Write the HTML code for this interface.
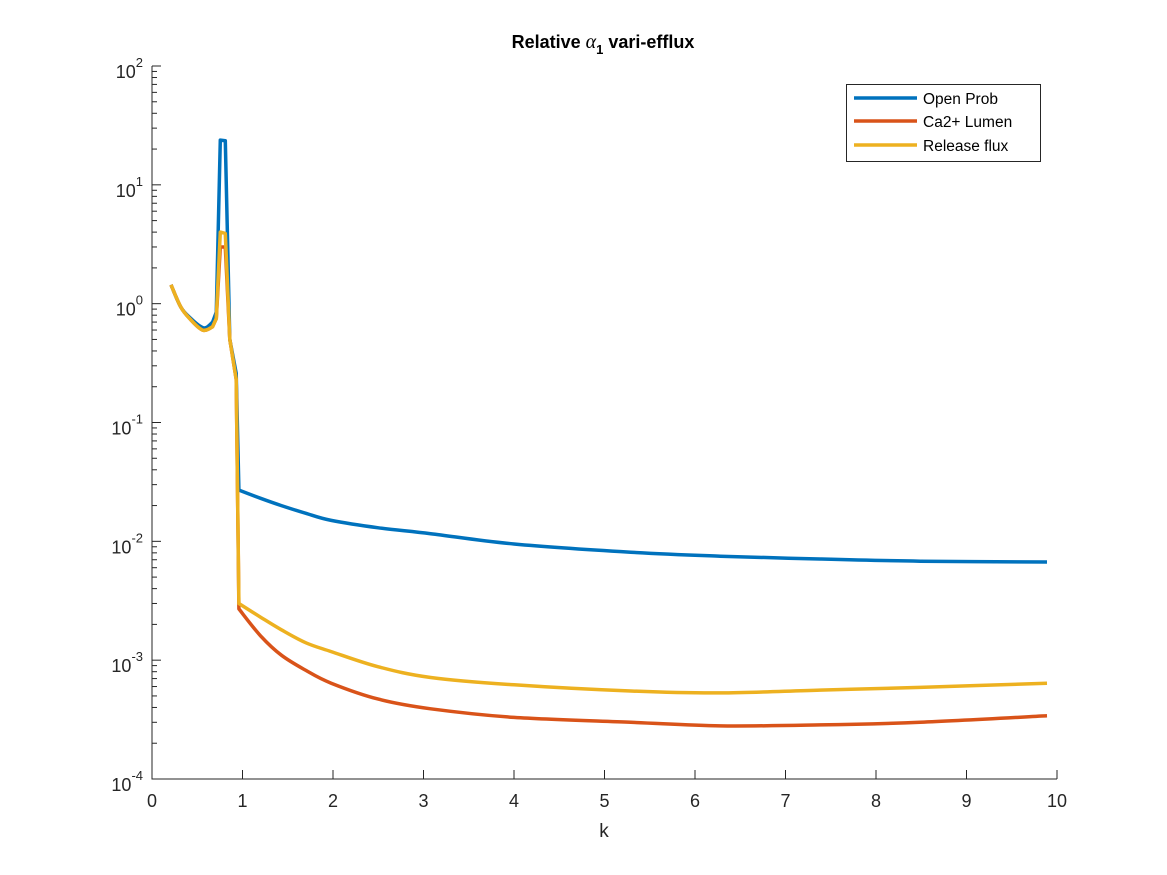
<!DOCTYPE html>
<html><head><meta charset="utf-8"><style>
body{margin:0;background:#fff;}
svg{display:block;font-family:"Liberation Sans",sans-serif;}
</style></head><body>
<svg id="chart" width="1167" height="875">
<rect width="1167" height="875" fill="#fff"/>
<g id="axes"></g>
<g id="series"></g>
<text x="603" y="48" text-anchor="middle" font-size="18" font-weight="bold" fill="#000">Relative <tspan font-style="italic" font-family="Liberation Serif, serif" font-weight="normal" font-size="20">α</tspan><tspan font-size="13" dy="6">1</tspan><tspan dy="-6"> vari-efflux</tspan></text>
<text x="604" y="837" text-anchor="middle" font-size="19" fill="#262626">k</text>
<g>
<rect x="846.5" y="84.5" width="194" height="77" fill="#fff" stroke="#262626" stroke-width="1"/>
<line x1="854" y1="98" x2="917" y2="98" stroke="#0072BD" stroke-width="3.5"/>
<text x="923" y="104" font-size="15.5" fill="#000">Open Prob</text>
<line x1="854" y1="121" x2="917" y2="121" stroke="#D95319" stroke-width="3.5"/>
<text x="923" y="127" font-size="15.5" fill="#000">Ca2+ Lumen</text>
<line x1="854" y1="145" x2="917" y2="145" stroke="#EDB120" stroke-width="3.5"/>
<text x="923" y="151" font-size="15.5" fill="#000">Release flux</text>
</g>
</svg>
<script>
const xTicks=[0,1,2,3,4,5,6,7,8,9,10];
const yExps=[2,1,0,-1,-2,-3,-4];
const kOpen=[0.21,0.32,0.43,0.54,0.6,0.67,0.71,0.755,0.81,0.86,0.93,0.96,1.2,1.43,1.7,1.98,2.5,3.08,4,5.29,6.28,7.38,8.49,9.89];
const vOpen=[1.44,0.93,0.75,0.64,0.63,0.7,0.85,23.8,23.5,0.5,0.26,0.027,0.023,0.02,0.0172,0.015,0.013,0.0116,0.0095,0.0081,0.0075,0.0071,0.0068,0.0067];
const kCa=[0.21,0.32,0.43,0.54,0.6,0.67,0.71,0.755,0.81,0.86,0.93,0.96,1.2,1.43,1.7,1.98,2.5,3.08,4,5.29,6.28,7.38,8.49,9.89];
const vCa=[1.44,0.93,0.73,0.61,0.6,0.64,0.75,3.0,3.0,0.5,0.23,0.0027,0.0016,0.0011,0.00082,0.00064,0.00047,0.00039,0.00033,0.0003,0.00028,0.000285,0.0003,0.00034];
const kRel=[0.21,0.32,0.43,0.54,0.6,0.67,0.71,0.755,0.81,0.86,0.93,0.96,1.2,1.43,1.7,1.98,2.5,3.08,4,5.29,6.28,7.38,8.49,9.89];
const vRel=[1.44,0.93,0.73,0.61,0.6,0.64,0.75,4.0,3.9,0.5,0.23,0.003,0.0023,0.0018,0.0014,0.00118,0.00088,0.000715,0.00062,0.00055,0.00053,0.00056,0.00059,0.00064];
const X0=152,X1=1057,Y0=779,Y1=66;
const xs=k=>X0+k/10*(X1-X0);
const ys=v=>Y0-(Math.log10(v)+4)/6*(Y0-Y1);
const NS="http://www.w3.org/2000/svg";
const ax=document.getElementById('axes');
function mk(t,a,p){const e=document.createElementNS(NS,t);for(const k in a)e.setAttribute(k,a[k]);p.appendChild(e);return e;}
const axl=mk('path',{d:`M${X0},${Y1}V${Y0}H${X1}`,fill:'none',stroke:'#262626','stroke-width':1},ax);


xTicks.forEach(t=>{
 const x=xs(t);
 const tk=mk('line',{x1:x,x2:x,y1:Y0,y2:Y0-9,stroke:'#262626'},ax);
 
 
 const tx=mk('text',{x:x,y:Y0+28,'text-anchor':'middle','font-size':18,fill:'#262626'},ax);
 tx.textContent=t;
 
 
});
yExps.forEach(e=>{
 const y=ys(Math.pow(10,e));
 const tk=mk('line',{x1:X0,x2:X0+9,y1:y,y2:y,stroke:'#262626'},ax);
 
 
 if(e>-4){for(let m=2;m<10;m++){const ym=ys(m*Math.pow(10,e-1));const mt=mk('line',{x1:X0,x2:X0+5,y1:ym,y2:ym,stroke:'#262626'},ax);}}
 const tx=mk('text',{x:X0-9,y:y+12,'text-anchor':'end','font-size':18,fill:'#262626'},ax);
 tx.innerHTML='10<tspan font-size="13" dy="-11">'+e+'</tspan>';
 
 
});
const sg=document.getElementById('series');
function region(k){return k<0.7?0:(k>=0.95?2:1);}
function line(ks,vs,c,name){
 const pts=ks.map((k,i)=>[xs(k),ys(vs[i])]);
 const n=pts.length;
 let d='M'+pts[0][0].toFixed(1)+','+pts[0][1].toFixed(1);
 for(let i=1;i<n;i++){
  const r=region(ks[i]);
  const p1=pts[i-1],p2=pts[i];
  if(r!==1&&region(ks[i-1])===r){
   const p0=(i-2>=0&&region(ks[i-2])===r)?pts[i-2]:p1;
   const p3=(i+1<n&&region(ks[i+1])===r)?pts[i+1]:p2;
   const c1=[p1[0]+(p2[0]-p0[0])/6,p1[1]+(p2[1]-p0[1])/6];
   const c2=[p2[0]-(p3[0]-p1[0])/6,p2[1]-(p3[1]-p1[1])/6];
   d+='C'+c1.map(v=>v.toFixed(1))+' '+c2.map(v=>v.toFixed(1))+' '+p2.map(v=>v.toFixed(1));
  } else d+='L'+p2[0].toFixed(1)+','+p2[1].toFixed(1);
 }
 const p=mk('path',{d:d,fill:'none',stroke:c,'stroke-width':3.5,'stroke-linejoin':'round'},sg);
 
 
}
line(kOpen,vOpen,'#0072BD','line-open-prob');
line(kCa,vCa,'#D95319','line-ca-lumen');
line(kRel,vRel,'#EDB120','line-release-flux');
</script>
</body></html>
